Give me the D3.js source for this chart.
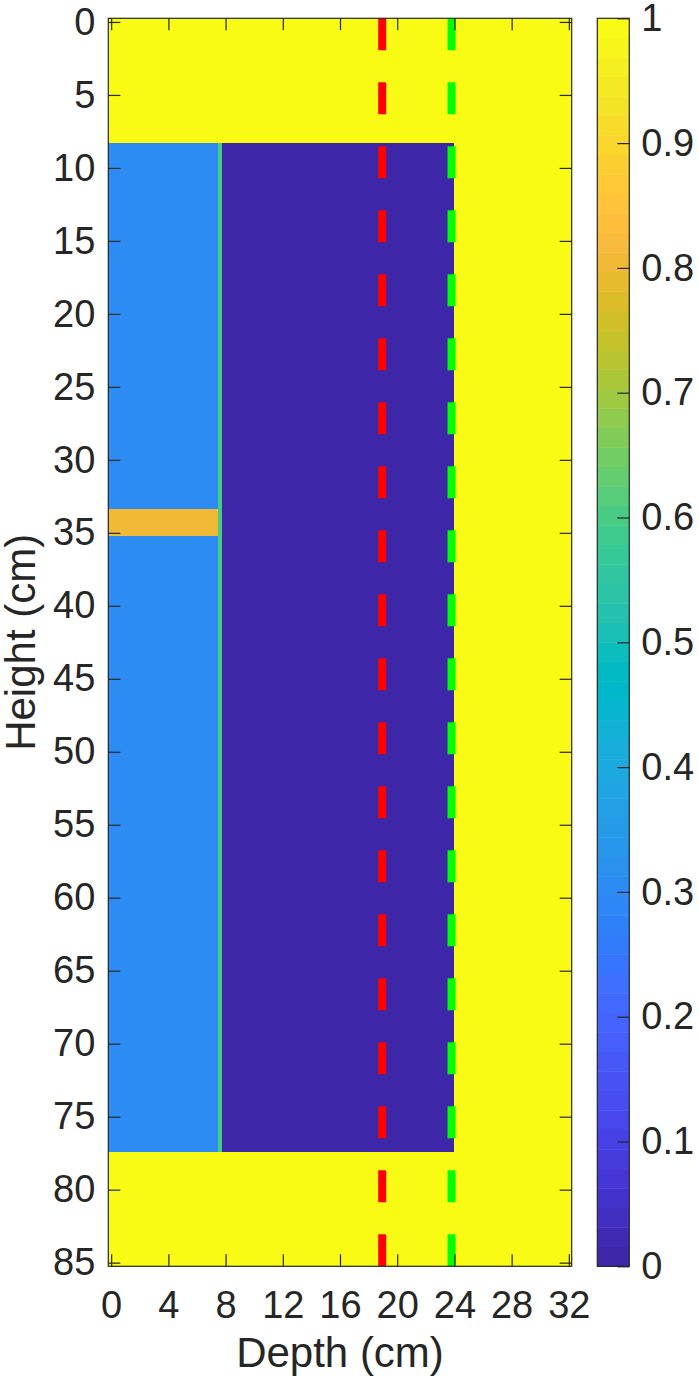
<!DOCTYPE html>
<html>
<head>
<meta charset="utf-8">
<script src="https://cdn.jsdelivr.net/npm/d3@7"></script>
<style>
  html, body { margin: 0; padding: 0; background: #fff; }
  svg text { font-family: "Liberation Sans", Arial, Helvetica, sans-serif; fill: #262626; }
</style>
</head>
<body>
<svg id="chart" width="699" height="1381"></svg>
<script>
// ---- data ----
const xDomain = [-0.2, 32.2];
const yDomain = [-0.25, 85.25];
const xTicks = [0, 4, 8, 12, 16, 20, 24, 28, 32];
const yTicks = [0, 5, 10, 15, 20, 25, 30, 35, 40, 45, 50, 55, 60, 65, 70, 75, 80, 85];
const cTicks = [0, 0.1, 0.2, 0.3, 0.4, 0.5, 0.6, 0.7, 0.8, 0.9, 1];
const cTickLabels = ["0", "0.1", "0.2", "0.3", "0.4", "0.5", "0.6", "0.7", "0.8", "0.9", "1"];

// zones of the field (drawn in order)
const zoneX0 = [-0.2, -0.2, 7.45, 7.75, -0.2];
const zoneX1 = [32.2, 7.45, 7.75, 24.0, 7.45];
const zoneY0 = [-0.25, 8.3, 8.3, 8.3, 33.4];
const zoneY1 = [85.25, 77.4, 77.4, 77.4, 35.2];
const zoneValue = [1, 0.3, 0.6, 0, 0.8];

const lineX = [18.95, 23.8];
const lineColor = ["#ff0000", "#00ff00"];

const xLabel = "Depth (cm)";
const yLabel = "Height (cm)";

// parula (64)
const parula = [
[0.2422,0.1504,0.6603],[0.2504,0.1650,0.7076],[0.2578,0.1818,0.7511],[0.2647,0.1978,0.7952],
[0.2706,0.2147,0.8364],[0.2751,0.2342,0.8710],[0.2783,0.2559,0.8991],[0.2803,0.2782,0.9221],
[0.2813,0.3006,0.9414],[0.2810,0.3228,0.9579],[0.2795,0.3447,0.9717],[0.2760,0.3667,0.9829],
[0.2699,0.3892,0.9906],[0.2602,0.4123,0.9952],[0.2440,0.4358,0.9988],[0.2206,0.4603,0.9973],
[0.1963,0.4847,0.9892],[0.1834,0.5074,0.9798],[0.1786,0.5289,0.9682],[0.1764,0.5499,0.9520],
[0.1687,0.5703,0.9359],[0.1540,0.5902,0.9218],[0.1460,0.6091,0.9079],[0.1380,0.6276,0.8973],
[0.1248,0.6459,0.8883],[0.1113,0.6635,0.8763],[0.0952,0.6798,0.8598],[0.0689,0.6948,0.8394],
[0.0297,0.7082,0.8163],[0.0036,0.7203,0.7917],[0.0067,0.7312,0.7660],[0.0433,0.7411,0.7394],
[0.0964,0.7500,0.7120],[0.1408,0.7584,0.6842],[0.1717,0.7670,0.6554],[0.1938,0.7758,0.6251],
[0.2161,0.7843,0.5923],[0.2470,0.7918,0.5567],[0.2906,0.7973,0.5188],[0.3406,0.8008,0.4789],
[0.3909,0.8029,0.4354],[0.4456,0.8024,0.3909],[0.5044,0.7993,0.3480],[0.5616,0.7942,0.3045],
[0.6174,0.7876,0.2612],[0.6720,0.7793,0.2227],[0.7242,0.7698,0.1910],[0.7738,0.7598,0.1646],
[0.8203,0.7498,0.1535],[0.8634,0.7406,0.1596],[0.9035,0.7330,0.1774],[0.9393,0.7288,0.2100],
[0.9728,0.7298,0.2394],[0.9956,0.7434,0.2371],[0.9970,0.7659,0.2199],[0.9952,0.7893,0.2028],
[0.9892,0.8136,0.1885],[0.9786,0.8386,0.1766],[0.9676,0.8639,0.1643],[0.9610,0.8890,0.1537],
[0.9597,0.9135,0.1423],[0.9628,0.9373,0.1265],[0.9691,0.9606,0.1064],[0.9769,0.9839,0.0805]
];
const toRGB = c => d3.rgb(c[0]*255, c[1]*255, c[2]*255).formatHex();
const color = v => toRGB(parula[Math.max(0, Math.min(63, Math.floor(v * 64)))]);

// ---- layout ----
const plot = { left: 108.3, right: 571.7, top: 18.3, bottom: 1266.3 };
const cbar = { left: 597.3, right: 629.3, top: 18.3, bottom: 1266.3 };
const ink = "#262626";
const tickFont = 38, labelFont = 42, tickLen = 12;

const svg = d3.select("#chart");
const x = d3.scaleLinear().domain(xDomain).range([plot.left, plot.right]);
const y = d3.scaleLinear().domain(yDomain).range([plot.top, plot.bottom]);

// zones
const zones = zoneValue.map((v, i) => ({ x0: zoneX0[i], x1: zoneX1[i], y0: zoneY0[i], y1: zoneY1[i], v }));
svg.append("g").selectAll("rect").data(zones).join("rect")
  .attr("x", d => x(d.x0)).attr("y", d => y(d.y0))
  .attr("width", d => x(d.x1) - x(d.x0)).attr("height", d => y(d.y1) - y(d.y0))
  .attr("fill", d => color(d.v)).attr("shape-rendering", "crispEdges");

// dashed lines
svg.append("g").selectAll("line").data(lineX).join("line")
  .attr("x1", d => x(d)).attr("x2", d => x(d))
  .attr("y1", y(yDomain[0])).attr("y2", y(yDomain[1]))
  .attr("stroke", (d, i) => lineColor[i]).attr("stroke-width", 8)
  .attr("stroke-dasharray", "32,32");

// axes (ticks inward, box)
const axisStyle = g => {
  g.select(".domain").remove();
  g.selectAll(".tick line").attr("stroke", ink).attr("stroke-width", 1.2);
  g.selectAll(".tick text").attr("font-size", tickFont).attr("fill", ink)
   .attr("font-family", '"Liberation Sans", Arial, sans-serif');
};
svg.append("g").attr("transform", `translate(0,${plot.bottom})`)
  .call(d3.axisBottom(x).tickValues(xTicks).tickSizeInner(-tickLen).tickSizeOuter(0).tickPadding(25))
  .call(axisStyle);
svg.append("g").attr("transform", `translate(0,${plot.top})`)
  .call(d3.axisTop(x).tickValues(xTicks).tickSizeInner(-tickLen).tickSizeOuter(0).tickFormat(""))
  .call(axisStyle);
svg.append("g").attr("transform", `translate(${plot.left},0)`)
  .call(d3.axisLeft(y).tickValues(yTicks).tickSizeInner(-tickLen).tickSizeOuter(0).tickPadding(13))
  .call(axisStyle);
svg.append("g").attr("transform", `translate(${plot.right},0)`)
  .call(d3.axisRight(y).tickValues(yTicks).tickSizeInner(-tickLen).tickSizeOuter(0).tickFormat(""))
  .call(axisStyle);
svg.append("rect").attr("x", plot.left).attr("y", plot.top)
  .attr("width", plot.right - plot.left).attr("height", plot.bottom - plot.top)
  .attr("fill", "none").attr("stroke", ink).attr("stroke-width", 1.2);

// axis labels
svg.append("text").attr("x", (plot.left + plot.right) / 2).attr("y", 1367)
  .attr("text-anchor", "middle").attr("font-size", labelFont).text(xLabel);
svg.append("text").attr("transform", `translate(35,${(plot.top + plot.bottom) / 2}) rotate(-90)`)
  .attr("text-anchor", "middle").attr("font-size", labelFont).text(yLabel);

// colorbar
const c = d3.scaleLinear().domain([0, 1]).range([cbar.bottom, cbar.top]);
const steps = parula.map((p, i) => ({ i, p }));
svg.append("g").selectAll("rect").data(steps).join("rect")
  .attr("x", cbar.left).attr("width", cbar.right - cbar.left)
  .attr("y", d => c((d.i + 1) / 64)).attr("height", d => c(d.i / 64) - c((d.i + 1) / 64) + 0.5)
  .attr("fill", d => toRGB(d.p));
svg.append("g").attr("transform", `translate(${cbar.right},0)`)
  .call(d3.axisRight(c).tickValues(cTicks).tickSizeInner(-tickLen).tickSizeOuter(0)
    .tickPadding(12).tickFormat((d, i) => cTickLabels[i]))
  .call(axisStyle);
svg.append("rect").attr("x", cbar.left).attr("y", cbar.top)
  .attr("width", cbar.right - cbar.left).attr("height", cbar.bottom - cbar.top)
  .attr("fill", "none").attr("stroke", ink).attr("stroke-width", 1.2);
</script>
</body>
</html>
